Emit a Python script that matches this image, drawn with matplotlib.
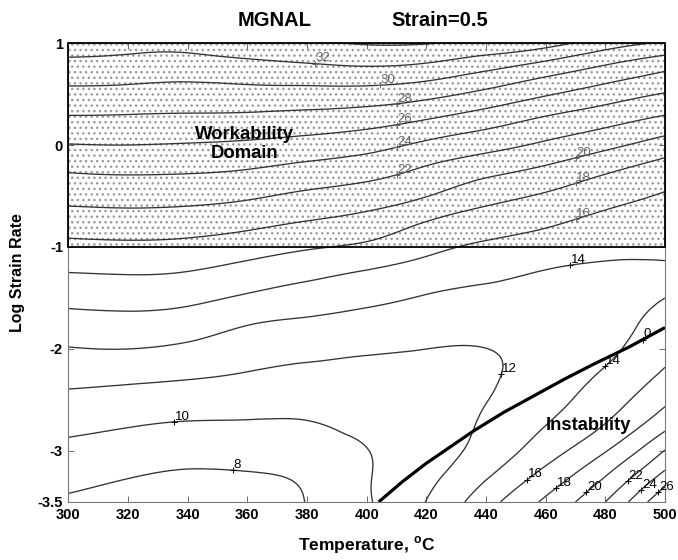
import numpy as np
import matplotlib
matplotlib.use("Agg")
import matplotlib.pyplot as plt
import matplotlib.tri as mtri
from matplotlib.patches import Rectangle
from matplotlib.transforms import offset_copy

plt.rcParams['font.family'] = ['Liberation Sans', 'DejaVu Sans']
plt.rcParams['mathtext.fontset'] = 'custom'
plt.rcParams['mathtext.rm'] = 'Liberation Sans:bold'
plt.rcParams['mathtext.bf'] = 'Liberation Sans:bold'

# ---------------- data ----------------
temperatures = [300, 320, 340, 360, 380, 400, 420, 440, 460, 480, 500]
log_strain_rates = [-3.5, -3.25, -3.0, -2.75, -2.5, -2.25, -2.0, -1.75, -1.5, -1.25,
                    -1.0, -0.75, -0.5, -0.25, 0.0, 0.25, 0.5, 0.75, 1.0]

# efficiency of power dissipation (%) per temperature, from log rate -3.5 up to 1.0
eta_300 = [7.7, 8.61, 9.5, 10.47, 11.53, 12.68, 13.9, 15.21, 16.57, 18.0, 19.47, 21.03, 22.6, 24.14, 25.93, 27.71, 29.45, 31.21, 33.0]
eta_320 = [7.2, 8.08, 9.08, 10.09, 11.26, 12.53, 14.0, 15.35, 16.72, 18.12, 19.59, 21.16, 22.73, 24.28, 26.0, 27.67, 29.38, 31.03, 32.8]
eta_340 = [6.9, 7.7, 8.75, 9.8, 11.0, 12.27, 13.62, 15.03, 16.47, 17.94, 19.45, 21.03, 22.63, 24.2, 25.87, 27.59, 29.21, 30.9, 32.7]
eta_360 = [7.2, 7.8, 8.85, 9.78, 10.81, 11.88, 12.98, 14.1, 15.7, 17.25, 18.9, 20.6, 22.27, 23.93, 25.66, 27.48, 29.33, 31.2, 33.4]
eta_380 = [8.05, 8.3, 9.1, 9.85, 10.71, 11.56, 12.55, 13.68, 15.03, 16.53, 18.2, 19.96, 21.6, 23.36, 25.23, 27.25, 29.28, 31.52, 33.8]
eta_400 = [9.8, 9.85, 9.95, 10.45, 11.0, 11.56, 12.21, 13.28, 14.44, 15.83, 17.63, 19.33, 21.03, 22.79, 24.67, 26.86, 29.18, 31.78, 34.15]
eta_420 = [12.05, 11.5, 11.15, 11.15, 11.2, 11.5, 12.0, 12.93, 13.85, 15.1, 16.5, 18.0, 20.06, 21.7, 23.6, 26.0, 28.6, 31.4, 34.1]
eta_440 = [15.2, 13.8, 12.7, 12.26, 11.95, 11.75, 11.98, 12.76, 13.5, 14.48, 15.67, 17.06, 18.67, 20.58, 22.67, 24.9, 27.5, 30.3, 33.6]
eta_460 = [18.36, 16.7, 15.1, 14.0, 13.3, 12.9, 12.7, 13.0, 13.4, 13.9, 15.07, 16.34, 17.77, 19.57, 21.67, 23.7, 26.2, 29.0, 32.8]
eta_480 = [22.0, 20.0, 17.9, 16.1, 15.05, 14.24, 13.6, 13.4, 13.4, 13.7, 14.48, 15.48, 16.7, 18.27, 20.5, 22.7, 25.0, 27.6, 31.0]
eta_500 = [28.0, 24.7, 22.1, 19.44, 17.6, 16.3, 15.4, 14.7, 14.0, 13.8, 14.38, 15.1, 15.83, 17.1, 19.1, 21.6, 23.9, 26.3, 29.8]

contour_levels = [8, 10, 12, 14, 16, 18, 20, 22, 24, 26, 28, 30, 32, 34]

# instability boundary (xi = 0)
instab_T = [404, 412, 420, 428, 436, 446, 456, 466, 476, 488, 500]
instab_logsr = [-3.5, -3.3, -3.12, -2.96, -2.8, -2.62, -2.46, -2.3, -2.15, -1.98, -1.79]

# contour label anchors: (level, temperature, log strain rate)
label_level = [32, 30, 28, 26, 24, 22, 20, 18, 16, 14, 12, 10, 8, 14, 16, 18, 20, 22, 24, 26]
label_T = [383, 404, 410, 410, 410, 410, 470, 470, 470, 469, 446, 336, 356, 480, 454, 464, 473, 488, 493, 499]
label_logsr = [0.80, 0.59, 0.40, 0.19, -0.04, -0.27, -0.13, -0.38, -0.72, -1.16, -2.25, -2.71, -3.19,
               -2.18, -3.3, -3.37, -3.41, -3.31, -3.41, -3.45]

domain_T = (300, 500)
domain_logsr = (-1.0, 1.0)

# ---------------- figure ----------------
fig = plt.figure(figsize=(6.78, 5.60), dpi=100)
ax = fig.add_axes([0.101, 0.1036, 0.8798, 0.8196])
ax.set_xlim(300, 500)
ax.set_ylim(-3.5, 1.0)

eta_grid = np.column_stack([eta_300, eta_320, eta_340, eta_360, eta_380, eta_400,
                            eta_420, eta_440, eta_460, eta_480, eta_500])
Tg, Yg = np.meshgrid(np.array(temperatures, float), np.array(log_strain_rates, float))
nrow, ncol = Tg.shape
xscale = (597.0 / 200.0) / 102.0   # make grid isotropic in screen units
xs = (Tg - 300.0) * xscale
tris = []
for i in range(nrow - 1):
    for j in range(ncol - 1):
        k = i * ncol + j
        tris.append([k, k + 1, k + ncol + 1])
        tris.append([k, k + ncol + 1, k + ncol])
tri = mtri.Triangulation(xs.ravel(), Yg.ravel(), np.array(tris))
refiner = mtri.UniformTriRefiner(tri)
rtri, rz = refiner.refine_field(eta_grid.ravel(), subdiv=3)
tri_T = mtri.Triangulation(300.0 + rtri.x / xscale, rtri.y, rtri.triangles)

# workability domain shading
ax.add_patch(Rectangle((domain_T[0], domain_logsr[0]), domain_T[1] - domain_T[0],
                       domain_logsr[1] - domain_logsr[0], facecolor='none',
                       edgecolor='#9a9a9a', hatch='...', lw=0, zorder=0.5))

cs = ax.tricontour(tri_T, rz, levels=contour_levels, colors='#333333', linewidths=0.95, zorder=2)

ax.plot(instab_T, instab_logsr, color='black', lw=2.3, zorder=3, solid_capstyle='butt')

ax.add_patch(Rectangle((domain_T[0], domain_logsr[0]), domain_T[1] - domain_T[0],
                       domain_logsr[1] - domain_logsr[0], fill=False,
                       edgecolor='black', lw=1.3, zorder=3.5, clip_on=False))

# MATLAB-style contour labels: '+' on the nearest point of the line, number up-right
text_tr = offset_copy(ax.transData, fig=fig, x=0.5, y=-0.5, units='points')
paths = cs.get_paths()
for lev, lt, ly in zip(label_level, label_T, label_logsr):
    idx = contour_levels.index(lev)
    verts = paths[idx].vertices
    if len(verts) == 0:
        continue
    disp = ax.transData.transform(verts)
    target = ax.transData.transform((lt, ly))
    k = int(np.argmin(np.hypot(disp[:, 0] - target[0], disp[:, 1] - target[1])))
    x0, y0 = verts[k]
    inside = domain_logsr[0] < y0 < domain_logsr[1]
    col = '#666666' if inside else 'black'
    ax.plot([x0], [y0], marker='+', ms=5, mew=0.7, color=col, zorder=5)
    ax.text(x0, y0, str(lev), transform=text_tr, ha='left', va='bottom',
            fontsize=9.5, color=col, zorder=5)

# zero label on instability line
zT = 492.5
zY = float(np.interp(zT, instab_T, instab_logsr))
ax.plot([zT], [zY], marker='+', ms=5, mew=0.7, color='black', zorder=5)
ax.text(zT, zY, '0', transform=text_tr, ha='left', va='bottom', fontsize=9.5, zorder=5)

# annotations
ax.text(359, 0.01, 'Workability\nDomain', ha='center', va='center', fontsize=13.3,
        fontweight='bold', linespacing=1.2, zorder=6)
ax.text(474.5, -2.75, 'Instability', ha='center', va='center', fontsize=13.2,
        fontweight='bold', zorder=6)

# axes styling
xticks = [300, 320, 340, 360, 380, 400, 420, 440, 460, 480, 500]
yticks = [-3.5, -3, -2, -1, 0, 1]
ytick_labels = ['-3.5', '-3', '-2', '-1', '0', '1']
ax.set_xticks(xticks)
ax.set_yticks(yticks)
ax.set_yticklabels(ytick_labels)
ax.tick_params(direction='in', length=4, width=0.6, top=True, right=True,
               labelsize=10.5, color='#555555', pad=4)
for lab in ax.get_xticklabels() + ax.get_yticklabels():
    lab.set_fontweight('bold')
for sp in ax.spines.values():
    sp.set_color('#777777')
    sp.set_linewidth(0.8)

ax.set_xlabel(r'Temperature, $^{\mathregular{o}}$C', fontsize=12.5, fontweight='bold', labelpad=9)
ax.set_ylabel('Log Strain Rate', fontsize=11.5, fontweight='bold', labelpad=9)

fig.text(0.405, 0.964, 'MGNAL', ha='center', va='center', fontsize=14.5, fontweight='bold')
fig.text(0.648, 0.964, 'Strain=0.5', ha='center', va='center', fontsize=14.5, fontweight='bold')

fig.savefig('out.png', dpi=100)
